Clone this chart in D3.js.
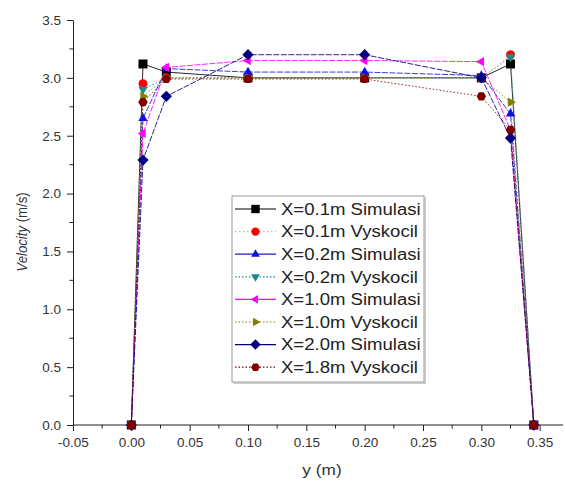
<!DOCTYPE html>
<html><head><meta charset="utf-8">
<script src="https://cdn.jsdelivr.net/npm/d3@7"></script>
<style>body{margin:0;background:#fff}svg{display:block}text{font-family:Arial,"Liberation Sans",sans-serif}</style>
</head><body><svg id="c" width="565" height="483"></svg>
<script>
const yPos = [0, 0.01, 0.03, 0.1, 0.2, 0.3, 0.325, 0.345];
const sim01 = [0, 3.12, 3.05, 3.0, 3.0, 3.0, 3.12, 0];
const vys01 = [0, 2.95, 3.0, 3.0, 3.0, 3.0, 3.2, 0];
const sim02 = [0, 2.65, 3.08, 3.05, 3.05, 3.02, 2.69, 0];
const vys02 = [0, 2.9, 3.0, 3.0, 3.0, 3.0, 3.18, 0];
const sim10 = [0, 2.52, 3.09, 3.15, 3.15, 3.14, 2.55, 0];
const vys10 = [0, 2.84, 3.0, 3.0, 3.0, 3.0, 2.79, 0];
const sim20 = [0, 2.29, 2.84, 3.2, 3.2, 3.0, 2.48, 0];
const vys18 = [0, 2.79, 2.99, 2.99, 2.99, 2.84, 2.55, 0];
const seriesNames = ["X=0.1m Simulasi","X=0.1m Vyskocil","X=0.2m Simulasi","X=0.2m Vyskocil","X=1.0m Simulasi","X=1.0m Vyskocil","X=2.0m Simulasi","X=1.8m Vyskocil"];
const xTicks = [-0.05, 0, 0.05, 0.1, 0.15, 0.2, 0.25, 0.3, 0.35];
const yTicks = [0, 0.5, 1.0, 1.5, 2.0, 2.5, 3.0, 3.5];

const styles = [
  {color:"#000000", dash:null, shape:"square", lineColor:"#000", op:0.85},
  {color:"#ff0000", dash:"1.5,2.5", shape:"circle", lineColor:"#f4a0a0", op:0.6},
  {color:"#1010e0", dash:null, shape:"triUp", lineColor:"#1a1ad0", op:0.85},
  {color:"#1a8a8a", dash:"1.5,2", shape:"triDown", lineColor:"#1a8a8a", op:0.85},
  {color:"#ff00ff", dash:null, shape:"triLeft", lineColor:"#ff00ff", op:0.85},
  {color:"#808000", dash:"1.5,2", shape:"triRight", lineColor:"#808000", op:0.85},
  {color:"#000080", dash:null, shape:"diamond", lineColor:"#000080", op:0.85},
  {color:"#800000", dash:"1.5,2", shape:"hex", lineColor:"#800000", op:0.85}
];
const data = [sim01, vys01, sim02, vys02, sim10, vys10, sim20, vys18];

const svg = d3.select("#c");
const x = d3.scaleLinear().domain([-0.05, 0.37]).range([73, 563]);
const y = d3.scaleLinear().domain([0, 3.5]).range([425, 20]);

function shapePath(s, r) {
  const pts = [];
  if (s === "square") return `M${-r},${-r}h${2*r}v${2*r}h${-2*r}Z`;
  if (s === "circle") return d3.symbol().type(d3.symbolCircle).size(Math.PI*r*r)();
  let ang = [], rr = r*1.2;
  if (s === "triUp") ang = [-90, 30, 150];
  if (s === "triDown") ang = [90, 210, 330];
  if (s === "triLeft") ang = [180, 300, 60];
  if (s === "triRight") ang = [0, 120, 240];
  if (s === "diamond") { ang = [-90, 0, 90, 180]; rr = r*1.25; }
  if (s === "hex") { ang = [0, 60, 120, 180, 240, 300]; rr = r*1.05; }
  ang.forEach(a => pts.push([rr*Math.cos(a*Math.PI/180), rr*Math.sin(a*Math.PI/180)]));
  return "M" + pts.map(p => p[0].toFixed(2)+","+p[1].toFixed(2)).join("L") + "Z";
}

// axes
const fmtX = d => d3.format(".2f")(d).replace("\u2212", "-");
const xAxis = d3.axisBottom(x).tickValues(xTicks).tickFormat(fmtX).tickSize(6).tickSizeOuter(0);
const gx = svg.append("g").attr("transform", "translate(0,425)").call(xAxis);
gx.select(".domain").attr("stroke", "#222").attr("d", "M73,0H563");
gx.selectAll(".tick line").attr("stroke", "#222");
gx.selectAll(".tick text").attr("font-size", 13.5).attr("fill", "#333").attr("dy", "0.95em");
const xMinor = d3.range(-0.025, 0.37, 0.05);
gx.selectAll(".mx").data(xMinor).enter().append("line").attr("x1", d=>x(d)).attr("x2", d=>x(d)).attr("y1",0).attr("y2",3.5).attr("stroke","#222");

const yAxis = d3.axisLeft(y).tickValues(yTicks).tickFormat(d3.format(".1f")).tickSize(6).tickSizeOuter(0);
const gy = svg.append("g").attr("transform", "translate(73,0)").call(yAxis);
gy.select(".domain").attr("stroke", "#222");
gy.selectAll(".tick line").attr("stroke", "#222");
gy.selectAll(".tick text").attr("font-size", 13.5).attr("fill", "#333").attr("x", -12);
const yMinor = d3.range(0.25, 3.5, 0.5);
gy.selectAll(".my").data(yMinor).enter().append("line").attr("x1", 0).attr("x2", -3.5).attr("y1", d=>y(d)).attr("y2", d=>y(d)).attr("stroke","#222");

svg.append("text").attr("transform","translate(322,475) scale(1.15,1)").attr("text-anchor","middle").attr("font-size", 15).attr("fill","#333").text("y (m)");
const yl = svg.append("text").attr("transform","translate(27,232) rotate(-90) scale(0.85,1)").attr("text-anchor","middle").attr("font-size",15.5).attr("fill","#333");
yl.append("tspan").attr("font-style","italic").text("Velocity");
yl.append("tspan").text(" (m/s)");

// lines
const line = d3.line().x((d,i)=>x(yPos[i])).y(d=>y(d));
const plot = svg.append("g");
data.forEach((vals, k) => {
  const st = styles[k];
  plot.append("path").datum(vals).attr("d", line).attr("fill","none")
    .attr("stroke", st.lineColor).attr("stroke-width", 1).attr("stroke-opacity", st.op)
    .attr("stroke-dasharray", st.dash || (k===0?null:"6,1.5"));
});
// markers
data.forEach((vals, k) => {
  const st = styles[k];
  plot.selectAll(".m"+k).data(vals).enter().append("path")
    .attr("transform", (d,i)=>`translate(${x(yPos[i])},${y(d)})`)
    .attr("d", shapePath(st.shape, 4.5)).attr("fill", st.color);
});

// legend
const lg = svg.append("g");
lg.append("rect").attr("x", 232).attr("y", 196).attr("width", 192).attr("height", 186)
  .attr("fill","#fff").attr("stroke","#999").attr("stroke-width",1);
lg.append("path").attr("d","M233,383H425V197").attr("fill","none").attr("stroke","#bbb").attr("stroke-width",1.5);
seriesNames.forEach((n, k) => {
  const st = styles[k];
  const yy = 209 + k*22.6;
  lg.append("line").attr("x1", 235).attr("x2", 276).attr("y1", yy).attr("y2", yy)
    .attr("stroke", st.lineColor).attr("stroke-width", 1.2).attr("stroke-dasharray", st.dash);
  lg.append("path").attr("transform", `translate(255.5,${yy})`).attr("d", shapePath(st.shape, 4.2)).attr("fill", st.color);
  lg.append("text").attr("transform", `translate(281,${yy}) scale(1.16,1)`).attr("dy","0.36em").attr("font-size", 16).attr("fill","#222").text(n);
});
</script></body></html>
